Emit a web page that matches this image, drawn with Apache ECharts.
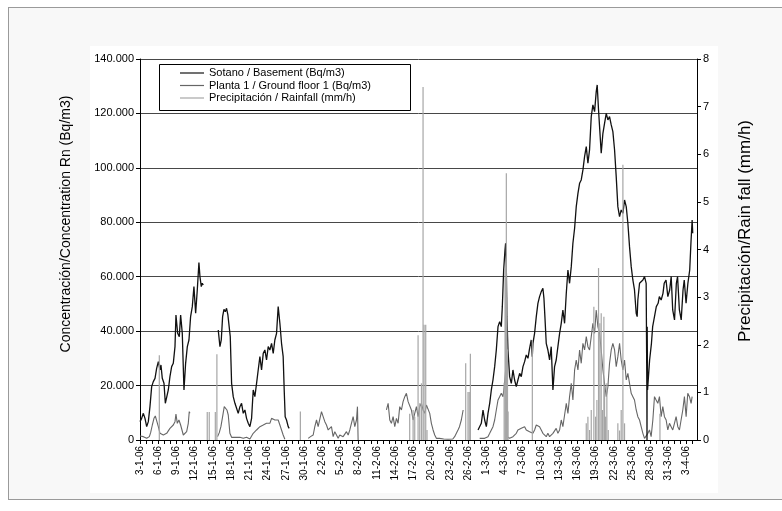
<!DOCTYPE html>
<html>
<head>
<meta charset="utf-8">
<script src="https://cdn.jsdelivr.net/npm/echarts@6/dist/echarts.min.js"></script>
<style>
  html, body { margin: 0; padding: 0; width: 782px; height: 511px; overflow: hidden; background: #fff; }
  #frame { position: absolute; left: 8px; top: 7px; width: 800px; height: 493px; box-sizing: border-box;
           border: 1px solid #9a9a9a; background: #f8f8f8; }
  #card { position: absolute; left: 90px; top: 46px; width: 628px; height: 447px; background: #fff; }
  #chart { position: absolute; left: 0; top: 0; width: 782px; height: 511px; }
</style>
</head>
<body>
<div id="frame"></div>
<div id="card"></div>
<div id="chart"></div>
<script>
// Date labels along the time axis (x = day of year 2006)
const dateLabels = ['3-1-06','6-1-06','9-1-06','12-1-06','15-1-06','18-1-06','21-1-06','24-1-06','27-1-06','30-1-06',
  '2-2-06','5-2-06','8-2-06','11-2-06','14-2-06','17-2-06','20-2-06','23-2-06','26-2-06',
  '1-3-06','4-3-06','7-3-06','10-3-06','13-3-06','16-3-06','19-3-06','22-3-06','25-3-06','28-3-06','31-3-06','3-4-06'];
const dateLabelDays = [3,6,9,12,15,18,21,24,27,30,33,36,39,42,45,48,51,54,57,60,63,66,69,72,75,78,81,84,87,90,93];
const concLabels = ['0','20.000','40.000','60.000','80.000','100.000','120.000','140.000'];
const rainLabels = ['0','1','2','3','4','5','6','7','8'];

// Radon concentration in the basement, Bq/m3  [day of year, value]; null = no measurement
const basement = [
  [3.00,6740],[3.27,7960],[3.55,9800],[3.82,7960],[4.10,4900],[4.37,6740],[4.64,12250],[4.92,19600],[5.19,21440],
  [5.47,22660],[5.74,26340],[6.02,28790],[6.29,25730],[6.45,27560],[6.67,22660],[6.95,20830],[7.17,13480],[7.39,14090],
  [7.66,18380],[7.93,23280],[8.21,26950],[8.48,28180],[8.76,34300],[8.92,45940],[9.20,39200],[9.47,37980],[9.69,45940],
  [9.96,39200],[10.24,18380],[10.51,28180],[10.79,34300],[11.06,36750],[11.33,45330],[11.61,49000],[11.88,56350],
  [12.16,46550],[12.43,55130],[12.70,65170],[12.87,60030],[13.09,56350],[13.25,57580],[13.42,56960],
  [13.5,null],
  [15.88,40430],[16.16,34300],[16.38,36750],[16.60,45330],[16.82,48020],[17.04,47160],[17.25,48390],[17.47,45940],
  [17.69,45330],[17.86,37980],[18.08,20830],[18.35,15930],[18.63,13480],[18.90,11640],[19.17,9800],[19.45,12250],
  [19.72,13480],[20.00,9800],[20.27,11030],[20.54,7960],[20.82,6130],[21.09,4900],[21.37,7960],[21.64,18380],
  [21.91,15930],[22.19,20830],[22.46,25730],[22.74,30630],[23.01,25730],[23.29,31850],[23.56,33080],[23.83,29400],
  [24.11,34300],[24.38,33080],[24.66,35530],[24.93,31850],[25.20,36750],[25.48,39200],[25.75,49000],[26.03,42880],
  [26.30,35530],[26.57,30630],[26.74,18380],[26.90,8580],[27.12,7350],[27.40,4900],[27.56,4290],
  [28,null],
  [58.65,3680],[58.92,4290],[59.19,6130],[59.47,11030],[59.74,7350],[60.02,4900],[60.29,9800],[60.57,13480],
  [60.84,18380],[61.11,22050],[61.39,26950],[61.66,33080],[61.94,41650],[62.21,43490],[62.48,41650],[62.65,49000],
  [62.87,62480],[63.09,69830],[63.19,72280],[63.30,64930],[63.41,45330],[63.58,33080],[63.85,23280],[64.13,20830],
  [64.40,25730],[64.67,22050],[64.95,19600],[65.22,22050],[65.50,24500],[65.77,23280],[66.05,26950],[66.32,28790],
  [66.59,31240],[66.87,30010],[67.14,33690],[67.41,36750],[67.58,30630],[67.69,35530],[67.96,39200],[68.24,45330],
  [68.51,50230],[68.78,52680],[69.06,54510],[69.33,55740],[69.50,52060],[69.66,45330],[69.88,35530],[70.15,33080],
  [70.43,29400],[70.70,34300],[70.98,18380],[71.25,26950],[71.52,29400],[71.80,34300],[72.08,39200],[72.35,42880],
  [72.62,47780],[72.90,42880],[73.18,53900],[73.45,62480],[73.72,57580],[74.00,63700],[74.27,72280],[74.55,77790],
  [74.82,85750],[75.10,90650],[75.37,94330],[75.64,95550],[75.92,99230],[76.19,104130],[76.47,107800],[76.74,101680],
  [77.01,106580],[77.29,118830],[77.56,123110],[77.84,120660],[78.11,128010],[78.27,130460],[78.49,121280],
  [78.66,115150],[78.93,105350],[79.21,112700],[79.48,116380],[79.76,120050],[80.03,117600],[80.30,118830],
  [80.58,115760],[80.85,113310],[81.13,106580],[81.40,96780],[81.67,85750],[81.95,82080],[82.22,84530],[82.50,83300],
  [82.77,88200],[83.05,85750],[83.32,79630],[83.59,71050],[83.87,63700],[84.14,58800],[84.41,55130],[84.69,46550],
  [84.85,45330],[84.96,51450],[85.24,57580],[85.51,57580],[85.79,58800],[86.06,60030],[86.33,57580],[86.44,20830],
  [86.47,0],[86.50,41650],[86.56,18380],[86.90,29400],[87.20,35530],[87.40,41650],[87.70,45330],[88.00,49000],
  [88.30,50230],[88.50,52680],[88.80,51450],[89.10,53900],[89.30,57580],[89.60,58800],[89.90,52680],[90.20,55130],
  [90.45,60030],[90.70,47780],[91.00,44100],[91.30,57580],[91.50,60030],[91.80,47780],[92.10,44100],[92.40,55130],
  [92.60,58800],[92.90,50230],[93.20,57580],[93.50,62480],[93.70,72280],[93.90,80850],[94.00,75990]
];

// Radon concentration on the ground floor, Bq/m3
const groundFloor = [
  [3.00,1470],[3.55,1230],[4.10,610],[4.54,1230],[4.75,2700],[5.03,5510],[5.30,7960],[5.52,8820],[5.74,7110],
  [6.02,4900],[6.29,2450],[6.56,3060],[6.84,1840],[7.11,1230],[7.39,2450],[7.66,3060],[7.93,4290],[8.21,3680],
  [8.48,5510],[8.76,6740],[8.92,9560],[9.14,6130],[9.41,7350],[9.69,5510],[9.91,4900],[10.13,1840],[10.40,1230],
  [10.68,3060],[10.95,6130],[11.11,10410],[11.22,9800],
  [11.3,null],
  [15.77,1230],[16.05,2700],[16.32,4900],[16.60,8580],[16.87,12250],[17.09,12500],[17.31,11030],[17.53,9190],
  [17.80,2450],[18.08,980],[18.35,610],[18.90,980],[19.45,980],[20.00,610],[20.54,980],[21.09,370],[21.37,860],
  [21.64,2450],[21.91,2940],[22.19,3680],[22.46,3060],[22.74,4900],[23.01,4290],[23.29,5510],[23.56,4900],
  [23.83,6130],[24.11,6740],[24.38,6130],[24.66,7960],[24.93,8580],[25.20,7350],[25.48,6740],[25.75,7350],
  [26.03,5510],[26.30,3680],[26.57,1840],[26.85,250],
  [27,null],
  [30.69,610],[31.07,1230],[31.51,1840],[31.78,4900],[32.06,7350],[32.33,4900],[32.61,5510],[32.88,10410],
  [33.15,8580],[33.43,6740],[33.70,5510],[33.98,3680],[34.25,3060],[34.52,4900],[34.80,1230],[35.07,3060],
  [35.35,1840],[35.62,610],[35.89,1840],[36.17,1230],[36.44,1230],[36.72,1840],[36.99,3060],[37.27,1840],
  [37.54,3680],[37.81,6130],[38.09,8580],[38.36,4900],[38.64,7350],[38.80,12250],[38.91,0],
  [39,null],
  [43.57,11030],[43.85,13480],[44.12,7350],[44.39,6130],[44.67,8580],[44.94,4900],[45.22,7960],[45.49,6130],
  [45.76,12250],[46.04,11030],[46.31,14090],[46.59,15930],[46.86,17150],[47.14,14090],[47.41,14700],[47.68,11030],
  [47.96,7350],[48.23,9800],[48.51,12250],[48.78,8580],[49.05,12250],[49.33,13480],[49.60,11030],[49.88,9800],
  [50.15,12860],[50.42,13480],[50.70,9800],[50.97,6130],[51.25,3680],[51.52,1840],[51.79,610],[52.07,250],
  [52.30,610],[53.00,370],[53.70,250],[54.50,370],[54.80,1230],[55.10,1840],[55.35,3680],[55.60,4900],
  [55.90,7350],[56.20,11030],
  [56.3,null],
  [58.92,610],[59.74,610],[60.29,1230],[60.57,2450],[60.84,3680],[61.11,4900],[61.39,7350],[61.66,11030],
  [61.94,14700],[62.21,15930],[62.48,17150],[62.76,15930],[63.03,20830],[63.19,25730],[63.41,1230],[63.85,610],
  [64.40,1230],[64.95,2450],[65.22,3680],[65.50,3060],[65.77,4290],[66.05,3680],[66.32,4900],[66.59,3680],
  [66.87,4290],[67.14,3060],[67.41,3680],[67.69,2450],[67.96,3680],[68.24,5510],[68.51,6130],[68.78,4900],
  [69.06,3680],[69.33,2450],[69.61,1840],[69.88,1230],[70.15,2450],[70.43,1230],[70.70,1840],[70.98,2450],
  [71.25,1840],[71.52,4290],[71.80,2450],[72.08,3680],[72.35,7350],[72.62,4900],[72.90,9190],[73.18,13480],
  [73.45,9800],[73.72,15930],[74.00,20830],[74.27,14700],[74.55,25730],[74.82,29400],[75.10,25730],[75.37,33080],
  [75.64,28180],[75.92,35530],[76.19,33080],[76.47,38000],[76.74,34300],[77.01,33080],[77.29,38000],[77.56,42880],
  [77.84,39200],[78.11,47780],[78.38,41650],[78.66,39200],[78.93,33080],[79.21,25730],[79.48,20830],[79.76,15930],
  [80.03,19600],[80.30,28180],[80.58,33080],[80.85,35530],[81.13,33080],[81.40,26950],[81.67,30630],[81.95,35530],
  [82.22,29400],[82.50,25730],[82.77,29400],[83.05,22050],[83.32,24500],[83.59,20830],[83.87,17150],[84.14,15930],
  [84.41,14700],[84.69,11030],[84.96,8580],[85.24,7350],[85.51,4900],[85.79,2450],[86.06,610],[86.33,1230],
  [86.61,2450],[86.88,3680],[87.15,1230],[87.43,7350],[87.70,15930],[87.97,14700],[88.25,13480],[88.52,15930],
  [88.80,8580],[89.07,12250],[89.34,8580],[89.62,7350],[89.89,3680],[90.17,6130],[90.44,4900],[90.71,3680],
  [90.99,6130],[91.26,8580],[91.54,4900],[91.81,3680],[92.08,7350],[92.36,11030],[92.63,15930],[92.91,8580],
  [93.18,17150],[93.46,15930],[93.73,13480],[93.90,15930]
];

// Hourly rainfall peaks, mm/h
const rainfall = [
  [6.18,1.78],
  [14.07,0.59],[14.40,0.59],[15.40,0.59],[15.66,1.80],
  [29.40,0.60],
  [47.40,0.55],[47.96,0.63],[48.23,0.49],[48.78,2.20],[49.05,0.77],[49.33,1.19],[49.60,7.41],[49.76,2.42],
  [50.04,2.42],[50.25,0.21],
  [56.62,1.61],[57.00,1.01],[57.20,1.01],[57.39,1.81],
  [62.95,1.20],[63.10,3.60],[63.20,3.40],[63.31,5.60],[63.40,3.00],[63.50,1.90],[63.60,0.60],
  [67.59,2.10],
  [76.47,0.35],[76.74,0.49],[77.01,0.21],[77.29,0.63],[77.72,2.80],[78.00,0.49],[78.22,0.84],[78.49,3.61],
  [78.71,2.45],[78.93,2.66],[79.15,0.63],[79.37,2.59],[79.48,1.10],[79.65,0.49],[79.86,1.19],[80.09,0.21],
  [81.67,0.35],[81.95,0.20],[82.22,0.63],[82.50,5.78],[82.77,0.35],
  [88.60,0.55]
];

const FONT = 'Liberation Sans, Arial, sans-serif';
const tickDays = [];
for (let d = 3; d <= 94; d++) tickDays.push(d);

const chart = echarts.init(document.getElementById('chart'), null, { renderer: 'canvas' });
chart.setOption({
  animation: false,
  backgroundColor: 'transparent',
  textStyle: { fontFamily: FONT },
  grid: { left: 140, right: 85, top: 59, bottom: 71, containLabel: false, outerBoundsMode: 'none' },
  legend: {
    left: 180, top: 67, orient: 'vertical', padding: 0, itemGap: 0.5,
    itemWidth: 24, itemHeight: 1.2, icon: 'rect', selectedMode: false,
    textStyle: { fontSize: 11, color: '#000', fontFamily: FONT, lineHeight: 12 },
    data: ['Sotano / Basement (Bq/m3)', 'Planta 1 / Ground floor 1 (Bq/m3)', 'Precipitación / Rainfall (mm/h)'],
    z: 5
  },
  xAxis: {
    type: 'value', min: 3, max: 94.7,
    axisLine: { show: true, onZero: false, lineStyle: { color: '#000', width: 1 } },
    axisTick: { show: true, customValues: tickDays, length: 4, lineStyle: { color: '#000' } },
    axisLabel: {
      customValues: dateLabelDays, rotate: 90, fontSize: 10, color: '#000', margin: 6, fontFamily: FONT,
      formatter: v => { const i = dateLabelDays.indexOf(Math.round(v)); return i >= 0 ? dateLabels[i] : ''; }
    },
    splitLine: { show: false }
  },
  yAxis: [
    {
      type: 'value', position: 'left', min: 0, max: 140000, interval: 20000,
      axisLine: { show: true, lineStyle: { color: '#000', width: 1 } },
      axisTick: { show: true, length: 4, lineStyle: { color: '#000' } },
      axisLabel: { fontSize: 11, color: '#000', margin: 6, fontFamily: FONT,
        formatter: v => concLabels[Math.round(v / 20000)] },
      splitLine: { show: true, lineStyle: { color: '#474747', width: 1 } }
    },
    {
      type: 'value', position: 'right', min: 0, max: 8, interval: 1,
      axisLine: { show: true, lineStyle: { color: '#000', width: 1 } },
      axisTick: { show: true, length: 4, lineStyle: { color: '#000' } },
      axisLabel: { fontSize: 11, color: '#000', margin: 6, fontFamily: FONT,
        formatter: v => rainLabels[Math.round(v)] },
      splitLine: { show: false }
    }
  ],
  series: [
    {
      name: 'Sotano / Basement (Bq/m3)', type: 'line', yAxisIndex: 0, data: basement,
      showSymbol: false, symbol: 'none', connectNulls: false, z: 3,
      lineStyle: { color: '#111', width: 1.3 }, itemStyle: { color: '#111' }
    },
    {
      name: 'Planta 1 / Ground floor 1 (Bq/m3)', type: 'line', yAxisIndex: 0, data: groundFloor,
      showSymbol: false, symbol: 'none', connectNulls: false, z: 2,
      lineStyle: { color: '#666', width: 1.1 }, itemStyle: { color: '#666' }
    },
    {
      name: 'Precipitación / Rainfall (mm/h)', type: 'bar', yAxisIndex: 1, data: rainfall,
      barWidth: 1.2, z: 4, itemStyle: { color: '#a6a6a6' }
    }
  ],
  graphic: [
    { type: 'rect', z: 4, silent: true,
      shape: { x: 159.5, y: 64.5, width: 251, height: 46 },
      style: { fill: '#fff', stroke: '#000', lineWidth: 1 } },
    { type: 'text', x: 66, y: 224, rotation: Math.PI / 2, silent: true,
      style: { text: 'Concentración/Concentration Rn (Bq/m3)', fontSize: 14, fontFamily: FONT, fill: '#000',
               align: 'center', verticalAlign: 'middle' } },
    { type: 'text', x: 745, y: 231, rotation: Math.PI / 2, silent: true,
      style: { text: 'Precipitación/Rain fall (mm/h)', fontSize: 17, fontFamily: FONT, fill: '#000',
               align: 'center', verticalAlign: 'middle' } }
  ]
});
</script>
</body>
</html>
